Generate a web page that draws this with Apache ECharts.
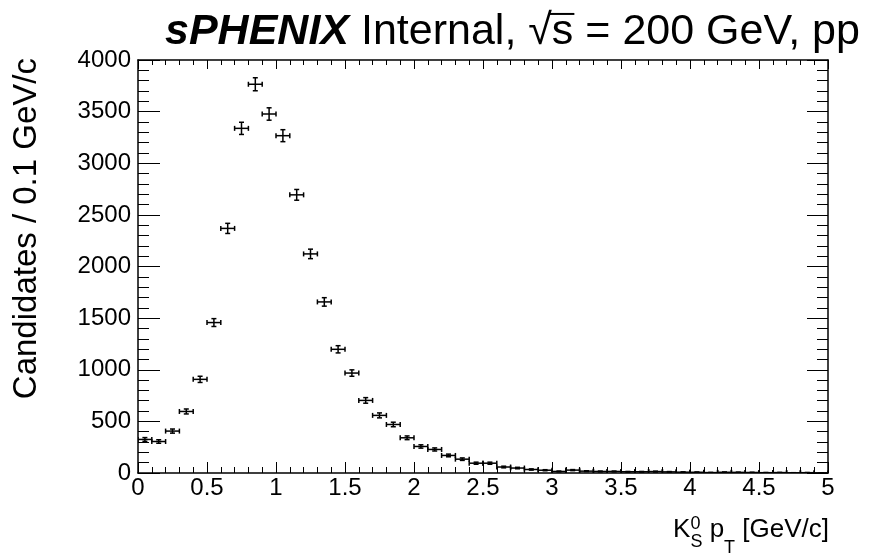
<!DOCTYPE html>
<html><head><meta charset="utf-8">
<script src="https://cdn.jsdelivr.net/npm/echarts@6/dist/echarts.min.js"></script>
<style>html,body{margin:0;padding:0;background:#fff}#c{width:894px;height:555px}</style>
</head><body><div id="c"></div>
<script>
// ---- data ----
const binCenters = [0.05,0.15,0.25,0.35,0.45,0.55,0.65,0.75,0.85,0.95,
  1.05,1.15,1.25,1.35,1.45,1.55,1.65,1.75,1.85,1.95,
  2.05,2.15,2.25,2.35,2.45,2.55,2.65,2.75,2.85,2.95,
  3.05,3.15,3.25,3.35,3.45,3.55,3.65,3.75,3.85,3.95,
  4.05,4.15,4.25,4.35,4.45,4.55,4.65,4.75,4.85,4.95];
const counts = [325,305,406,596,907,1457,2369,3338,3765,3477,
  3267,2694,2122,1657,1198,968,703,558,470,341,
  257,228,170,134,95,95,58,48,34,27,
  15,28,18,15,15,12,12,14,11,8,
  7,4,7,6,5,3,4,2,3,1];
const errors = [18,17,20,24,30,38,49,59,63,60,
  58,52,46,41,35,31,27,24,22,18,
  16,15,13,12,10,10,8,7,6,5,
  4,5,4,4,4,3,3,4,3,3,
  3,2,3,2,2,2,2,1,2,1];
const binHalfWidth = 0.05;
const xRange = [0, 5];
const yRange = [0, 4000];
const xTickStep = 0.5;
const yTickStep = 500;
const yTitle = 'Candidates / 0.1 GeV/c';

// ---- layout ----
const FONT = '"Liberation Sans", Arial, Helvetica, sans-serif';
const ctx = document.createElement('canvas').getContext('2d');
function tw(text, size, weight, style) {
  ctx.font = (style || 'normal') + ' ' + (weight || 'normal') + ' ' + size + 'px ' + FONT;
  return ctx.measureText(text).width;
}
const chart = echarts.init(document.getElementById('c'), null, {renderer: 'canvas'});

const axisCommon = {
  type: 'value',
  axisLine: {show: true, onZero: false, lineStyle: {color: '#000', width: 1.5}},
  splitLine: {show: false},
};

const graphics = [];
// title
(function () {
  const size = 43, yMid = 32;
  let x = 165;
  const p1 = 'sPHENIX', p2 = ' Internal, ', p3 = '\u221A', p4 = 's', p5 = ' = 200 GeV, pp';
  graphics.push({type: 'text', x: x, y: yMid, style: {text: p1, font: 'italic bold ' + size + 'px ' + FONT, fill: '#000', verticalAlign: 'middle'}});
  x += tw(p1, size, 'bold', 'italic');
  graphics.push({type: 'text', x: x, y: yMid, style: {text: p2, font: size + 'px ' + FONT, fill: '#000', verticalAlign: 'middle'}});
  x += tw(p2, size);
  graphics.push({type: 'text', x: x, y: yMid, style: {text: p3, font: size + 'px ' + FONT, fill: '#000', verticalAlign: 'middle'}});
  x += tw(p3, size);
  graphics.push({type: 'text', x: x, y: yMid, style: {text: p4, font: size + 'px ' + FONT, fill: '#000', verticalAlign: 'middle'}});
  const sW = tw(p4, size);
  const oy = yMid - 0.42 * size;
  graphics.push({type: 'line', shape: {x1: x - 2, y1: oy, x2: x + sW + 1, y2: oy}, style: {stroke: '#000', lineWidth: 2}});
  x += sW;
  graphics.push({type: 'text', x: x, y: yMid, style: {text: p5, font: size + 'px ' + FONT, fill: '#000', verticalAlign: 'middle'}});
})();
// x-axis title: K^0_S p_T [GeV/c], right aligned to frame edge
(function () {
  const big = 26, small = 18, right = 829, yMid = 530;
  const a = 'K', sup = '0', sub = 'S', b = ' p', sub2 = 'T', c = ' [GeV/c]';
  const wA = tw(a, big), wSS = Math.max(tw(sup, small), tw(sub, small)), wB = tw(b, big), wT = tw(sub2, small), wC = tw(c, big);
  let x = right - (wA + wSS + wB + wT + wC);
  const f = (s) => s + 'px ' + FONT;
  graphics.push({type: 'text', x: x, y: yMid, style: {text: a, font: f(big), fill: '#000', verticalAlign: 'middle'}});
  x += wA;
  graphics.push({type: 'text', x: x, y: yMid - 6, style: {text: sup, font: f(small), fill: '#000', verticalAlign: 'middle'}});
  graphics.push({type: 'text', x: x, y: yMid + 12, style: {text: sub, font: f(small), fill: '#000', verticalAlign: 'middle'}});
  x += wSS;
  graphics.push({type: 'text', x: x, y: yMid, style: {text: b, font: f(big), fill: '#000', verticalAlign: 'middle'}});
  x += wB;
  graphics.push({type: 'text', x: x, y: yMid + 18, style: {text: sub2, font: f(small), fill: '#000', verticalAlign: 'middle'}});
  x += wT;
  graphics.push({type: 'text', x: x, y: yMid, style: {text: c, font: f(big), fill: '#000', verticalAlign: 'middle'}});
})();
// y-axis title
graphics.push({type: 'text', x: 27, y: 58, rotation: Math.PI / 2,
  style: {text: yTitle, font: '33px ' + FONT, fill: '#000', align: 'right', verticalAlign: 'middle'}});

const option = {
  backgroundColor: '#fff',
  animation: false,
  grid: {left: 138, right: 66, top: 60, bottom: 82, containLabel: false},
  xAxis: [
    Object.assign({}, axisCommon, {
      position: 'bottom', min: xRange[0], max: xRange[1], interval: xTickStep,
      axisTick: {show: true, inside: true, length: 11, lineStyle: {color: '#000', width: 1}},
      minorTick: {show: true, splitNumber: 5, length: 6, lineStyle: {color: '#000', width: 1}},
      axisLabel: {show: true, color: '#000', fontSize: 24, fontFamily: FONT, margin: 3, showMinLabel: true, showMaxLabel: true,
        formatter: v => String(v)}
    }),
    Object.assign({}, axisCommon, {
      position: 'top', min: xRange[0], max: xRange[1], interval: xTickStep,
      axisTick: {show: true, inside: true, length: 9, lineStyle: {color: '#000', width: 1}},
      minorTick: {show: true, splitNumber: 5, length: 5, lineStyle: {color: '#000', width: 1}},
      axisLabel: {show: false}
    })
  ],
  yAxis: [
    Object.assign({}, axisCommon, {
      position: 'left', min: yRange[0], max: yRange[1], interval: yTickStep,
      axisTick: {show: true, inside: true, length: 22, lineStyle: {color: '#000', width: 1}},
      minorTick: {show: true, splitNumber: 5, length: 11, lineStyle: {color: '#000', width: 1}},
      axisLabel: {show: true, color: '#000', fontSize: 24, fontFamily: FONT, margin: 7, showMinLabel: true, showMaxLabel: true,
        formatter: v => String(v)}
    }),
    Object.assign({}, axisCommon, {
      position: 'right', min: yRange[0], max: yRange[1], interval: yTickStep,
      axisTick: {show: true, inside: true, length: 21, lineStyle: {color: '#000', width: 1}},
      minorTick: {show: true, splitNumber: 5, length: 11, lineStyle: {color: '#000', width: 1}},
      axisLabel: {show: false}
    })
  ],
  graphic: graphics,
  series: [{
    type: 'custom',
    xAxisIndex: 0, yAxisIndex: 0,
    clip: true,
    data: binCenters.map((x, i) => [x, counts[i], errors[i]]),
    renderItem: function (params, api) {
      const x = api.value(0), y = api.value(1), e = api.value(2);
      const pL = api.coord([x - binHalfWidth, y]);
      const pR = api.coord([x + binHalfWidth, y]);
      const pT = api.coord([x, y + e]);
      const pB = api.coord([x, y - e]);
      const c = 2.5;
      const segs = [
        [pL[0], pL[1], pR[0], pR[1]],
        [pT[0], pT[1], pB[0], pB[1]],
        [pL[0], pL[1] - c, pL[0], pL[1] + c],
        [pR[0], pR[1] - c, pR[0], pR[1] + c],
        [pT[0] - c, pT[1], pT[0] + c, pT[1]],
        [pB[0] - c, pB[1], pB[0] + c, pB[1]]
      ];
      return {
        type: 'group',
        children: segs.map(s => ({
          type: 'line',
          shape: {x1: s[0], y1: s[1], x2: s[2], y2: s[3]},
          style: {stroke: '#000', lineWidth: 1.5}
        }))
      };
    }
  }]
};
chart.setOption(option);
</script>
</body></html>
